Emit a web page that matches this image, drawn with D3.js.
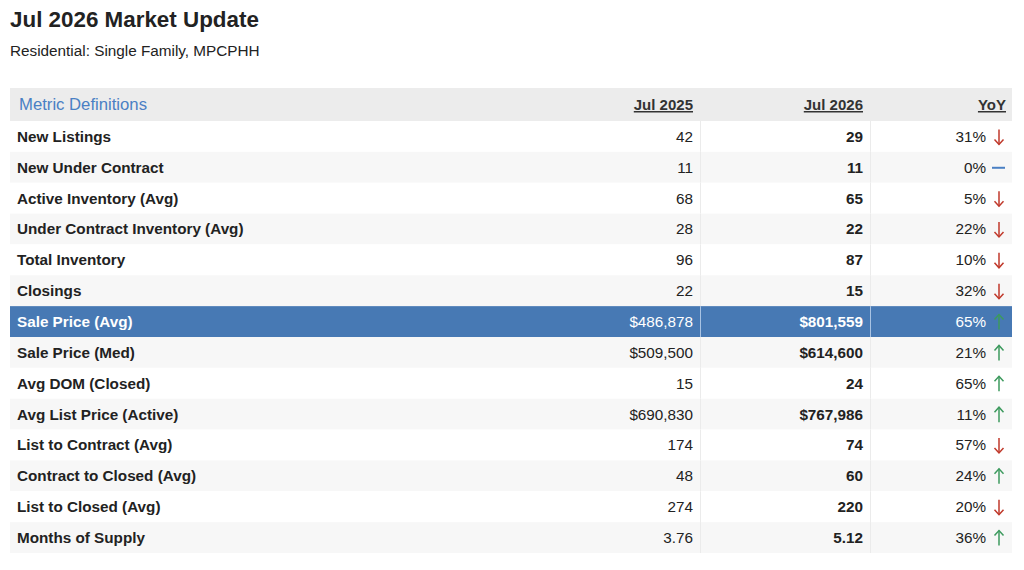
<!DOCTYPE html>
<html><head><meta charset="utf-8">
<script src="https://cdn.jsdelivr.net/npm/d3@7"></script>
<style>body{margin:0;background:#fff;} svg{display:block;font-family:"Liberation Sans",Arial,sans-serif;}</style>
</head><body><svg id="c" width="1024" height="570"></svg>
<script>
const title = "Jul 2026 Market Update";
const subtitle = "Residential: Single Family, MPCPHH";
const headers = ["Metric Definitions", "Jul 2025", "Jul 2026", "YoY"];
const metrics = ["New Listings","New Under Contract","Active Inventory (Avg)","Under Contract Inventory (Avg)","Total Inventory","Closings","Sale Price (Avg)","Sale Price (Med)","Avg DOM (Closed)","Avg List Price (Active)","List to Contract (Avg)","Contract to Closed (Avg)","List to Closed (Avg)","Months of Supply"];
const prevValues = ["42","11","68","28","96","22","$486,878","$509,500","15","$690,830","174","48","274","3.76"];
const currValues = ["29","11","65","22","87","15","$801,559","$614,600","24","$767,986","74","60","220","5.12"];
const yoyPct = ["31%","0%","5%","22%","10%","32%","65%","21%","65%","11%","57%","24%","20%","36%"];
const yoyDir = ["down","flat","down","down","down","down","up","up","up","up","down","up","down","up"];
const highlightRow = 6;

const svg = d3.select("#c");
const L = 10, R = 1012, headTop = 88, headH = 33, rowsTop = 121, rowsBottom = 553;
const colEdges = [L, 700, 870, R];

svg.append("text").attr("x",10).attr("y",27).attr("font-size",22.4).attr("font-weight","bold").attr("fill","#222").text(title);
svg.append("text").attr("x",10).attr("y",56).attr("font-size",15.3).attr("fill","#222").text(subtitle);

const y = d3.scaleBand().domain(d3.range(metrics.length)).range([rowsTop, rowsBottom]).padding(0);

// header
svg.append("rect").attr("x",L).attr("y",headTop).attr("width",R-L).attr("height",headH).attr("fill","#ececec");
const hy = headTop + headH/2 + 5.5;
svg.append("text").attr("x",19).attr("y",hy).attr("font-size",16.7).attr("fill","#4a80c4").text(headers[0]);
const hx = [693, 863, 1006];
headers.slice(1).forEach((h,i)=>{
  svg.append("text").attr("x",hx[i]).attr("y",hy).attr("text-anchor","end").attr("font-size",15).attr("font-weight","bold").attr("fill","#333").attr("text-decoration","underline").text(h);
});

const rows = svg.selectAll("g.row").data(metrics).join("g").attr("class","row")
  .attr("transform",(d,i)=>`translate(0,${y(i)})`);
const bh = y.bandwidth();
rows.append("rect").attr("x",L).attr("width",R-L).attr("height",bh)
  .attr("fill",(d,i)=> i===highlightRow ? "#4779b4" : (i%2===1 ? "#f7f7f7" : "#ffffff"));
// column dividers
rows.each(function(d,i){
  const g = d3.select(this);
  [colEdges[1], colEdges[2]].forEach(x=>{
    g.append("line").attr("x1",x+0.5).attr("x2",x+0.5).attr("y1",0).attr("y2",bh)
      .attr("stroke", i===highlightRow ? "#a9c3e3" : "#ebebeb").attr("stroke-width",1);
  });
});
const ty = bh/2 + 5.5;
const txtCol = (i)=> i===highlightRow ? "#ffffff" : "#222";
rows.append("text").attr("x",17).attr("y",ty).attr("font-size",15.25).attr("font-weight","bold").attr("fill",(d,i)=>txtCol(i)).text(d=>d);
rows.append("text").attr("x",693).attr("y",ty).attr("text-anchor","end").attr("font-size",15.25).attr("fill",(d,i)=>txtCol(i)).text((d,i)=>prevValues[i]);
rows.append("text").attr("x",863).attr("y",ty).attr("text-anchor","end").attr("font-size",15.25).attr("font-weight","bold").attr("fill",(d,i)=>txtCol(i)).text((d,i)=>currValues[i]);
rows.append("text").attr("x",986).attr("y",ty).attr("text-anchor","end").attr("font-size",15.25).attr("fill",(d,i)=>txtCol(i)).text((d,i)=>yoyPct[i]);

// arrows
const ax = 999;
rows.each(function(d,i){
  const g = d3.select(this);
  const dir = yoyDir[i];
  const cy = bh/2 + 0.5;
  if(dir==="flat"){
    g.append("line").attr("x1",992).attr("x2",1005).attr("y1",cy).attr("y2",cy).attr("stroke","#4a80c4").attr("stroke-width",2);
  } else {
    const col = dir==="up" ? "#3d9a5e" : "#c0392b";
    const top = cy-7.5, bot = cy+7.5;
    const tip = dir==="up" ? top : bot;
    const s = dir==="up" ? 1 : -1;
    g.append("line").attr("x1",ax).attr("x2",ax).attr("y1",top).attr("y2",bot).attr("stroke",col).attr("stroke-width",1.5);
    g.append("path").attr("d",`M${ax-4.5},${tip+5*s} L${ax},${tip} L${ax+4.5},${tip+5*s}`).attr("fill","none").attr("stroke",col).attr("stroke-width",1.5);
  }
});
</script></body></html>
